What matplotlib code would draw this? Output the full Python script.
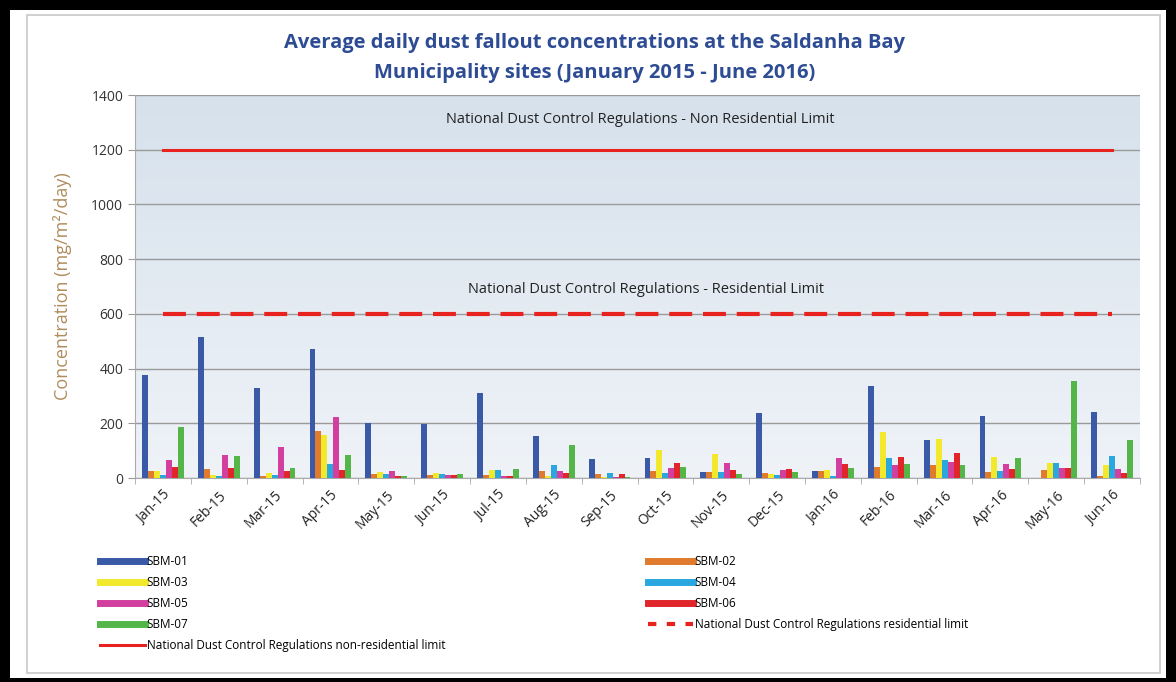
import numpy as np
import matplotlib.pyplot as plt
from matplotlib.patches import Rectangle
from matplotlib.lines import Line2D
from matplotlib.colors import LinearSegmentedColormap

plt.rcParams['font.family'] = ['Open Sans', 'DejaVu Sans']

months = ['Jan-15', 'Feb-15', 'Mar-15', 'Apr-15', 'May-15', 'Jun-15', 'Jul-15', 'Aug-15', 'Sep-15',
          'Oct-15', 'Nov-15', 'Dec-15', 'Jan-16', 'Feb-16', 'Mar-16', 'Apr-16', 'May-16', 'Jun-16']

# mg/m2/day per site
sbm01 = [375, 515, 330, 470, 200, 198, 312, 152, 70, 72, 22, 236, 24, 335, 138, 228, 0, 240]
sbm02 = [24, 32, 6, 171, 14, 10, 12, 24, 16, 24, 22, 18, 26, 40, 46, 22, 28, 8]
sbm03 = [24, 12, 18, 156, 22, 20, 28, 6, 2, 102, 87, 14, 30, 168, 141, 78, 56, 46]
sbm04 = [10, 6, 10, 50, 16, 16, 28, 48, 18, 18, 22, 12, 6, 74, 66, 24, 54, 80]
sbm05 = [66, 84, 114, 223, 26, 12, 8, 24, 2, 38, 54, 30, 72, 48, 60, 50, 38, 34]
sbm06 = [42, 36, 24, 30, 8, 12, 6, 18, 14, 54, 28, 32, 52, 78, 92, 32, 38, 18]
sbm07 = [186, 81, 36, 84, 8, 14, 32, 122, 2, 40, 14, 22, 36, 52, 48, 72, 355, 138]

site_names = ['SBM-01', 'SBM-02', 'SBM-03', 'SBM-04', 'SBM-05', 'SBM-06', 'SBM-07']
site_colors = ['#3a5aa8', '#e07a2c', '#f2e82c', '#2aa7df', '#d23f9e', '#e0262b', '#54b649']
residential_limit = 600
non_residential_limit = 1200

fig = plt.figure(figsize=(11.76, 6.82), dpi=100)
fig.patch.set_facecolor('black')
W, H = 1176, 682
# white page with a thin grey chart frame
fig.add_artist(Rectangle((10 / W, 4 / H), 1156 / W, 668 / H, transform=fig.transFigure,
                         facecolor='white', edgecolor='none', zorder=-5))
fig.add_artist(Rectangle((27 / W, 9 / H), 1133 / W, 658 / H, transform=fig.transFigure,
                         facecolor='none', edgecolor='#c8c8c8', linewidth=1.2, zorder=-4))

ax = fig.add_axes([135 / W, 1 - 478 / H, 1005 / W, 383 / H])
ax.set_facecolor('none')

x = np.arange(len(months))
data = [sbm01, sbm02, sbm03, sbm04, sbm05, sbm06, sbm07]
bw = 0.107
for i, (vals, c, name) in enumerate(zip(data, site_colors, site_names)):
    ax.bar(x + (i - 3) * bw, vals, width=bw, color=c, label=name, zorder=3)

ax.plot(x, [residential_limit] * len(x), color='#e8231f', lw=3, ls=(0, (5.5, 2.6)), zorder=4)
ax.plot(x, [non_residential_limit] * len(x), color='#e8231f', lw=2.2, zorder=4)

ax.set_xlim(-0.5, len(months) - 0.5)
ax.set_ylim(0, 1400)

# light blue-grey gradient behind the bars
grad = np.linspace(0, 1, 256).reshape(-1, 1)
ax.imshow(grad, extent=(-0.5, len(months) - 0.5, 0, 1400), aspect='auto', origin='lower',
          cmap=LinearSegmentedColormap.from_list('bg', ['#eff3f8', '#d6e1ec']), zorder=0)

ax.set_yticks(range(0, 1401, 200))
ax.yaxis.grid(True, color='#9a9a9a', lw=1.0, zorder=1)
ax.set_axisbelow(True)
ax.tick_params(axis='y', labelsize=10, colors='#333333', length=5, color='#999999')
ax.set_xticks(x)
ax.set_xticklabels(months, rotation=45, ha='right', rotation_mode='anchor', fontsize=10, color='#222222')
ax.tick_params(axis='x', which='major', length=0, pad=7)
ax.set_xticks(np.arange(-0.5, len(months), 1), minor=True)
ax.tick_params(axis='x', which='minor', length=4, color='#aaaaaa')
for s in ['top', 'right']:
    ax.spines[s].set_visible(False)
for s in ['left', 'bottom']:
    ax.spines[s].set_color('#aaaaaa')

ax.set_ylabel('Concentration (mg/m²/day)', color='#b08d5e', fontsize=13, labelpad=14)

ax.text(8.55, 1310, 'National Dust Control Regulations - Non Residential Limit', ha='center',
        va='center', fontsize=10.5, color='#222222')
ax.text(8.65, 690, 'National Dust Control Regulations - Residential Limit', ha='center',
        va='center', fontsize=10.5, color='#222222')

fig.text(595 / W, 1 - 43 / H, 'Average daily dust fallout concentrations at the Saldanha Bay',
         ha='center', va='center', fontsize=14.5, fontweight='bold', color='#2e4c94')
fig.text(595 / W, 1 - 73 / H, 'Municipality sites (January 2015 - June 2016)',
         ha='center', va='center', fontsize=14.5, fontweight='bold', color='#2e4c94')

# legend in two columns, drawn as two separate legends
handles = [Line2D([], [], color=c, lw=5) for c in site_colors]
res_h = Line2D([], [], color='#e8231f', lw=3, ls=(0, (2, 2.5)))
non_h = Line2D([], [], color='#e8231f', lw=2.2)
leg_kw = dict(loc='upper left', frameon=False, fontsize=8.5, handlelength=3.8, handletextpad=0.15,
              labelspacing=0.68, borderaxespad=0, borderpad=0)
fig.legend([handles[0], handles[2], handles[4], handles[6], non_h],
           ['SBM-01', 'SBM-03', 'SBM-05', 'SBM-07', 'National Dust Control Regulations non-residential limit'],
           bbox_to_anchor=(100 / W, 1 - 555 / H), **leg_kw)
fig.legend([handles[1], handles[3], handles[5], res_h],
           ['SBM-02', 'SBM-04', 'SBM-06', 'National Dust Control Regulations residential limit'],
           bbox_to_anchor=(648 / W, 1 - 555 / H), **leg_kw)

fig.savefig('out.png', dpi=100, facecolor=fig.get_facecolor())
